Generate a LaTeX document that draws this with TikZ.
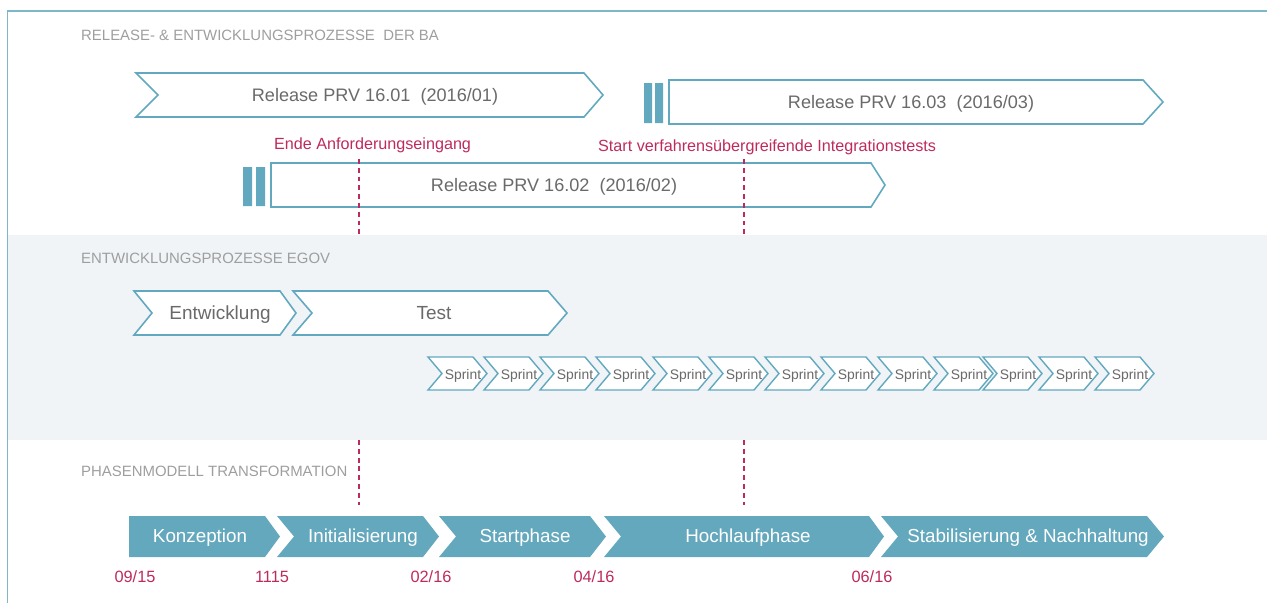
\documentclass[tikz,border=0pt]{standalone}
\usepackage{fontspec}
\setmainfont{Liberation Sans}
\usepackage{tikz}
\definecolor{tuerkis}{HTML}{62A9C0}
\definecolor{phasenblau}{HTML}{64A8BE}
\definecolor{rahmenblau}{HTML}{7DB8C8}
\definecolor{markerrot}{HTML}{BE2A5E}
\definecolor{bandgrau}{HTML}{F0F4F7}
\definecolor{titelgrau}{HTML}{9E9E9E}
\definecolor{textgrau}{HTML}{6A6A6A}

% Pfeil: Stil, x, y (oben links), Laenge oben, Hoehe, Spitze, Kerbe
\newcommand{\pfeil}[7]{\draw[#1] (#2,#3) -- ++(#4,0) -- ++(#6,#5/2) -- ++(-#6,#5/2) -- ++(-#4,0) -- ++(#7,-#5/2) -- cycle;}

\begin{document}
\begin{tikzpicture}[x=0.02cm, y=-0.02cm, % 1 Einheit = 1 Pixel
  titel/.style={text=titelgrau, font=\fontsize{8.5}{10}\selectfont, anchor=west},
  rand/.style={draw=tuerkis, line width=0.9pt, fill=white, line join=miter},
  phase/.style={fill=phasenblau, draw=none},
  beschriftung/.style={text=textgrau, anchor=mid, font=\fontsize{10.3}{12}\selectfont},
  sprinttext/.style={text=textgrau, anchor=mid, font=\fontsize{7.9}{9}\selectfont, inner sep=0pt},
  phasentext/.style={text=white, anchor=mid, font=\fontsize{10.7}{12}\selectfont},
  marke/.style={text=markerrot, anchor=west, font=\fontsize{9.2}{11}\selectfont},
  datum/.style={text=markerrot, anchor=mid, font=\fontsize{9.3}{11}\selectfont},
  linie/.style={markerrot, line width=0.75pt, dash pattern=on 2.8pt off 2.2pt},
  balken/.style={fill=tuerkis}]
  \useasboundingbox (0,0) rectangle (1267,603); % Rand des Bildes

  \fill[bandgrau] (8,235) rectangle (1267,440); % mittleres Band
  \draw[rahmenblau, line width=1.1pt] (7.5,603) -- (7.5,11) -- (1267,11); % Rahmen

  % Ueberschriften
  \node[titel] (h1) at (75,35) {RELEASE- \& ENTWICKLUNGSPROZESSE \ DER BA};
  \node[titel] (h2) at (75,258) {ENTWICKLUNGSPROZESSE EGOV};
  \node[titel] (h3) at (75,471) {PHASENMODELL TRANSFORMATION};

  % Releases der BA
  \pfeil{rand}{136}{73}{448}{44}{19}{22}
  \node[beschriftung] (r1) at (375,97) {Release PRV 16.01 \ (2016/01)};
  \fill[balken] (644,83) rectangle (652,123) (655,83) rectangle (663,123);
  \pfeil{rand}{669}{80}{474}{44}{20}{0}
  \node[beschriftung] (r3) at (911,104) {Release PRV 16.03 \ (2016/03)};
  \fill[balken] (243,167) rectangle (252,206) (256,167) rectangle (265,206);
  \pfeil{rand}{271}{163}{600}{44}{14}{0}
  \node[beschriftung] (r2) at (554,187) {Release PRV 16.02 \ (2016/02)};

  % Meilensteine
  \node[marke] (ende) at (268,145) {Ende Anforderungseingang};
  \node[marke] (start) at (592,147) {Start verfahrensübergreifende Integrationstests};
  \coordinate (l1a) at (359,159); \coordinate (l1b) at (359,235);
  \coordinate (l2a) at (744,159); \coordinate (l2b) at (744,235);
  \coordinate (l1c) at (359,440); \coordinate (l1d) at (359,505);
  \coordinate (l2c) at (744,440); \coordinate (l2d) at (744,505);
  \draw[linie] (l1a) -- (l1b); \draw[linie] (l2a) -- (l2b);
  \draw[linie] (l1c) -- (l1d); \draw[linie] (l2c) -- (l2d);

  % Entwicklung EGOV
  \pfeil{rand}{134}{291}{146}{44}{16}{18}
  \node[beschriftung, font=\fontsize{10.8}{12}\selectfont] (ent) at (220,315) {Entwicklung};
  \pfeil{rand}{293}{291}{255}{44}{19}{19}
  \node[beschriftung, font=\fontsize{10.8}{12}\selectfont] (test) at (434,315) {Test};
  \foreach \c [count=\i] in {462,518,574,630,687,743,799,855,912,968,1017,1073,1129}{
    \pfeil{rand, line width=0.8pt}{\c-34}{357}{45}{33}{14}{14}
    \node[sprinttext] (sprint\i) at (\c+1,375) {Sprint};
  }

  % Phasenmodell
  \pfeil{phase}{129}{516}{136}{41}{15}{0}
  \node[phasentext] (p1) at (200,538) {Konzeption};
  \pfeil{phase}{277}{516}{146}{41}{16}{17}
  \node[phasentext] (p2) at (363,538) {Initialisierung};
  \pfeil{phase}{439}{516}{151}{41}{16}{17}
  \node[phasentext] (p3) at (525,538) {Startphase};
  \pfeil{phase}{604}{516}{265}{41}{15}{17}
  \node[phasentext] (p4) at (748,538) {Hochlaufphase};
  \pfeil{phase}{881}{516}{266}{41}{17}{17}
  \node[phasentext] (p5) at (1028,538) {Stabilisierung \& Nachhaltung};

  % Daten
  \node[datum] (d1) at (135,578) {09/15};
  \node[datum] (d2) at (272,578) {1115};
  \node[datum] (d3) at (431,578) {02/16};
  \node[datum] (d4) at (594,578) {04/16};
  \node[datum] (d5) at (872,578) {06/16};
\end{tikzpicture}
\end{document}
